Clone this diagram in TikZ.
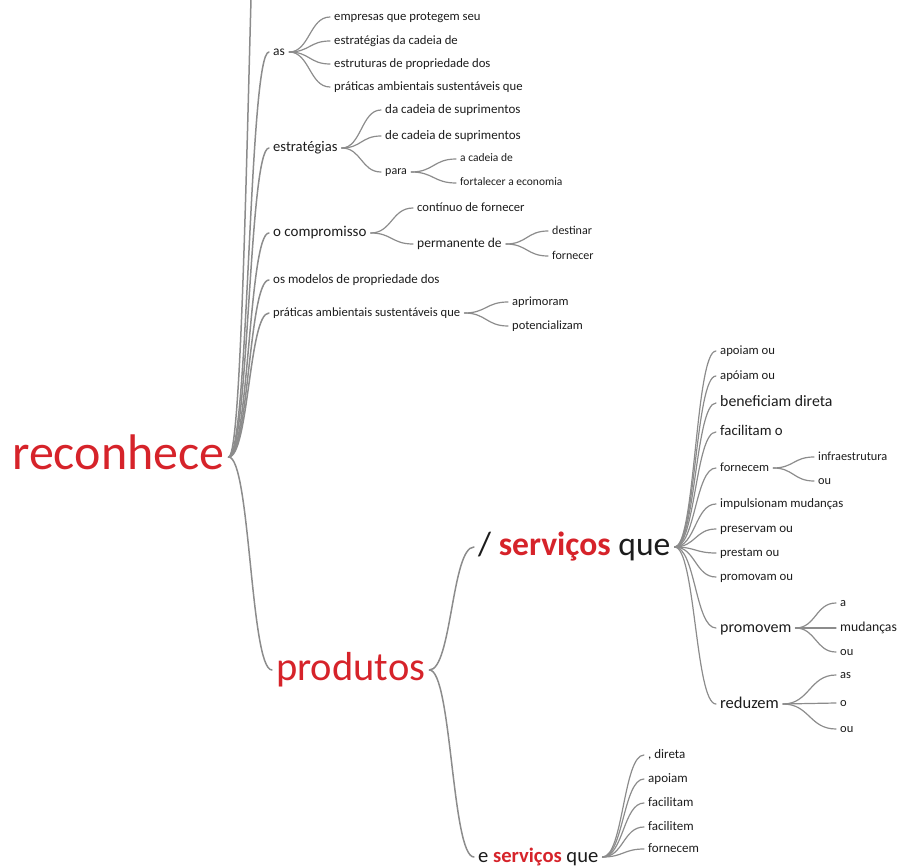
\documentclass[tikz,border=0pt]{standalone}
\usepackage{fontspec}
\setmainfont{Carlito}
\usetikzlibrary{calc}
\definecolor{wtred}{RGB}{214,35,42}
\definecolor{wtgray}{RGB}{140,140,140}
\definecolor{wttext}{RGB}{28,28,28}
\tikzset{
  fs/.code={\pgfmathsetmacro\wtfs{#1}\pgfmathsetmacro\wtht{0.5*#1}%
    \edef\wtnext{\noexpand\tikzset{font=\noexpand\fontsize{\wtfs pt}{\wtfs pt}\noexpand\selectfont,
      text height=\wtht pt, text depth=0pt}}\wtnext},
  wt/.style={to path={.. controls ($(\tikztostart)!.5!(\tikztostart -| \tikztotarget)$)
      and ($(\tikztotarget)!.5!(\tikztotarget -| \tikztostart)$) .. (\tikztotarget)}},
}
\begin{document}
\begin{tikzpicture}[x=1pt, y=-1pt]
  \useasboundingbox (0,0) rectangle (898,867);
  \clip (0,0) rectangle (898,867);
  \begin{scope}[every node/.style={anchor=west, inner xsep=4pt, inner ysep=0pt, text=wttext}]
    % root
    \node[fs=50, text=wtred] (rec) at (8,457) {reconhece};
    \coordinate (hid) at (270,-330);
    % first level
    \node[fs=13.5] (as) at (269,52) {as};
    \node[fs=14.6] (estr) at (269,148) {estratégias};
    \node[fs=15] (comp) at (269,233) {o compromisso};
    \node[fs=13] (mod) at (269,280) {os modelos de propriedade dos};
    \node[fs=12.6] (prat) at (269,313) {práticas ambientais sustentáveis que};
    \node[fs=40.5, text=wtred] (prod) at (272,670) {produtos};
    % as
    \node[fs=12.7] (as1) at (330,17) {empresas que protegem seu};
    \node[fs=12.7] (as2) at (330,41) {estratégias da cadeia de};
    \node[fs=12.7] (as3) at (330,64) {estruturas de propriedade dos};
    \node[fs=12.7] (as4) at (330,87) {práticas ambientais sustentáveis que};
    % estratégias
    \node[fs=13] (es1) at (381,110) {da cadeia de suprimentos};
    \node[fs=13] (es2) at (381,136) {de cadeia de suprimentos};
    \node[fs=12] (para) at (381,172) {para};
    \node[fs=11.5] (pa1) at (456,159) {a cadeia de};
    \node[fs=11.5] (pa2) at (456,183) {fortalecer a economia};
    % o compromisso
    \node[fs=12.6] (co1) at (413,208) {contínuo de fornecer};
    \node[fs=13.5] (co2) at (413,244) {permanente de};
    \node[fs=12] (pe1) at (548,231) {destinar};
    \node[fs=12] (pe2) at (548,256) {fornecer};
    % práticas
    \node[fs=12.5] (pr1) at (508,302) {aprimoram};
    \node[fs=12.5] (pr2) at (508,326) {potencializam};
    % produtos
    \node[fs=33.6] (serv) at (474,547) {/ \textcolor{wtred}{\bfseries serviços} que};
    \node[fs=20.6] (eserv) at (474,857) {e \textcolor{wtred}{\bfseries serviços} que};
    % / serviços que
    \node[fs=12.7] (s1) at (716,351) {apoiam ou};
    \node[fs=12.7] (s2) at (716,376) {apóiam ou};
    \node[fs=15.8] (s3) at (716,403) {beneficiam direta};
    \node[fs=14.8] (s4) at (716,432) {facilitam o};
    \node[fs=12.5] (s5) at (716,468) {fornecem};
    \node[fs=12.3] (f1) at (814,457) {infraestrutura};
    \node[fs=12.3] (f2) at (814,481) {ou};
    \node[fs=12.8] (s6) at (716,504) {impulsionam mudanças};
    \node[fs=13] (s7) at (716,529) {preservam ou};
    \node[fs=12.8] (s8) at (716,553) {prestam ou};
    \node[fs=12.8] (s9) at (716,577) {promovam ou};
    \node[fs=16] (s10) at (716,628) {promovem};
    \node[fs=12.5] (m1) at (836,603) {a};
    \node[fs=13.7] (m2) at (836,628) {mudanças};
    \node[fs=12.5] (m3) at (836,652) {ou};
    \node[fs=16.5] (s11) at (716,704) {reduzem};
    \node[fs=12.5] (r1) at (836,675) {as};
    \node[fs=12.5] (r2) at (836,703) {o};
    \node[fs=12.5] (r3) at (836,729) {ou};
    % e serviços que
    \node[fs=13] (e1) at (644,755) {, direta};
    \node[fs=13] (e2) at (644,779) {apoiam};
    \node[fs=13] (e3) at (644,803) {facilitam};
    \node[fs=13] (e4) at (644,827) {facilitem};
    \node[fs=13] (e5) at (644,849) {fornecem};
  \end{scope}

  \begin{scope}[every edge/.style={draw=wtgray, line width=1.5pt, line cap=round, wt}]
    \path (rec.east) edge (hid);
    \path (rec.east) edge (as.west);
    \path (rec.east) edge (estr.west);
    \path (rec.east) edge (comp.west);
    \path (rec.east) edge (mod.west);
    \path (rec.east) edge (prat.west);
    \path (rec.east) edge (prod.west);
    \path (prod.east) edge (serv.west);
    \path (prod.east) edge (eserv.west);
  \end{scope}

  \begin{scope}[every edge/.style={draw=wtgray, line width=1.2pt, line cap=round, wt}]
    \foreach \c in {as1,as2,as3,as4} \path (as.east) edge (\c.west);
    \foreach \c in {es1,es2,para} \path (estr.east) edge (\c.west);
    \foreach \c in {pa1,pa2} \path (para.east) edge (\c.west);
    \foreach \c in {co1,co2} \path (comp.east) edge (\c.west);
    \foreach \c in {pe1,pe2} \path (co2.east) edge (\c.west);
    \foreach \c in {pr1,pr2} \path (prat.east) edge (\c.west);
    \foreach \c in {s1,s2,s3,s4,s5,s6,s7,s8,s9,s10,s11} \path (serv.east) edge (\c.west);
    \foreach \c in {f1,f2} \path (s5.east) edge (\c.west);
    \foreach \c in {m1,m2,m3} \path (s10.east) edge (\c.west);
    \foreach \c in {r1,r2,r3} \path (s11.east) edge (\c.west);
    \foreach \c in {e1,e2,e3,e4,e5} \path (eserv.east) edge (\c.west);
  \end{scope}
\end{tikzpicture}
\end{document}
